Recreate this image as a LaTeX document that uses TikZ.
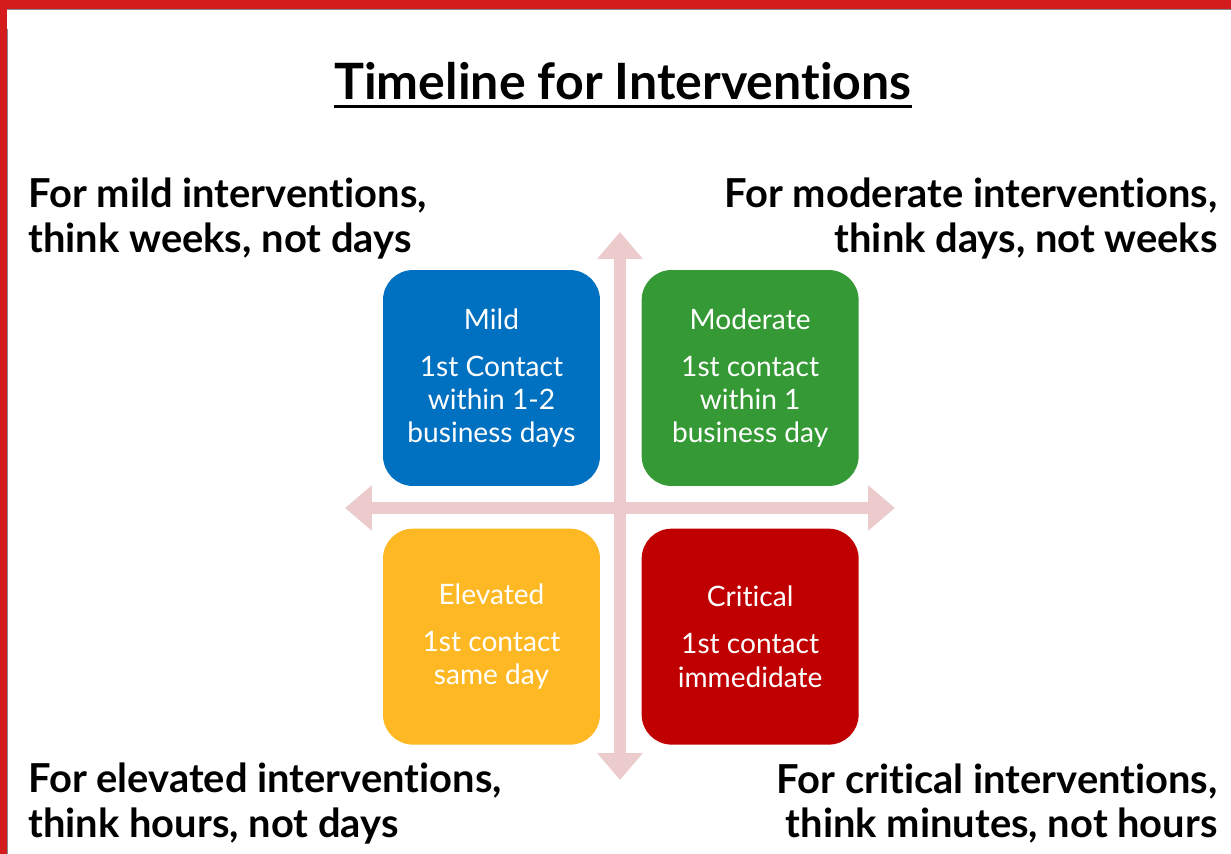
\documentclass[tikz,border=0pt]{standalone}
\usepackage{fontspec}
\setmainfont{Lato}[Ligatures=NoCommon]
\usetikzlibrary{arrows.meta,positioning}

\definecolor{barred}{HTML}{D41C1C}
\definecolor{edgegray}{HTML}{7F8C95}
\definecolor{mildblue}{HTML}{0070C0}
\definecolor{modgreen}{HTML}{359A35}
\definecolor{elevyellow}{HTML}{FDB823}
\definecolor{critred}{HTML}{C00000}
\definecolor{axispink}{HTML}{EBCBCB}

\tikzset{
  levelbox/.style={rounded corners=0.6cm, minimum width=4.34cm, minimum height=4.32cm,
    inner sep=0pt, text=white, align=center, font=\fontsize{16}{18.9}\selectfont},
  axisarrow/.style={draw=axispink, line width=0.24cm,
    {Triangle[width=0.88cm,length=0.54cm]}-{Triangle[width=0.88cm,length=0.54cm]}},
  cornertext/.style={inner sep=0pt, font=\bfseries\fontsize{22.7}{25.5}\selectfont},
}

\begin{document}
\begin{tikzpicture}[x=0.02cm, y=-0.02cm]
    \useasboundingbox (0,0) rectangle (1231,854);

    % Cornice rossa
    \fill[barred] (0,0) rectangle (1231,9);
    \fill[barred] (0,0) rectangle (7,854);
    \draw[edgegray, line width=0.6pt] (7.5,854) -- (7.5,29);
    \draw[edgegray, line width=0.6pt] (7,9.5) -- (1231,9.5);

    % Titolo
    \node[inner sep=0pt, anchor=base, font=\bfseries\fontsize{28.5}{32}\selectfont] (title) at (623,100) {Timeline for Interventions};
    \draw[line width=1.7pt] ([yshift=-3.5pt]title.base west) -- ([yshift=-3.5pt]title.base east);

    % Assi
    \coordinate (center) at (620,508);
    \coordinate (axtop) at (620,232);
    \coordinate (axbottom) at (620,780);
    \coordinate (axleft) at (345,508);
    \coordinate (axright) at (895,508);
    \draw[axisarrow] (axbottom) -- (axtop);
    \draw[axisarrow] (axleft) -- (axright);

    % Riquadri
    \node[levelbox, fill=mildblue] (mild) at (491.5,378) {Mild\\[8pt] 1st Contact\\ within 1-2\\ business days};
    \node[levelbox, fill=modgreen, right=0.82cm of mild] (moderate) {Moderate\\[8pt] 1st contact\\ within 1\\ business day};
    \node[levelbox, fill=elevyellow, below=0.84cm of mild] (elevated) {Elevated\\[8pt] 1st contact\\ same day};
    \node[levelbox, fill=critred, below=0.84cm of moderate] (critical) {Critical\\[8pt] 1st contact\\ immedidate};

    % Testi negli angoli
    \node[cornertext, anchor=west, align=left] (mildnote) at (28,218.5) {For mild interventions,\\ think weeks, not days};
    \node[cornertext, anchor=east, align=right] (modnote) at (1218,218.5) {For moderate interventions,\\ think days, not weeks};
    \node[cornertext, anchor=west, align=left] (elevnote) at (28,803.5) {For elevated interventions,\\ think hours, not days};
    \node[cornertext, anchor=east, align=right] (critnote) at (1218,803.5) {For critical interventions,\\ think minutes, not hours};
\end{tikzpicture}
\end{document}
